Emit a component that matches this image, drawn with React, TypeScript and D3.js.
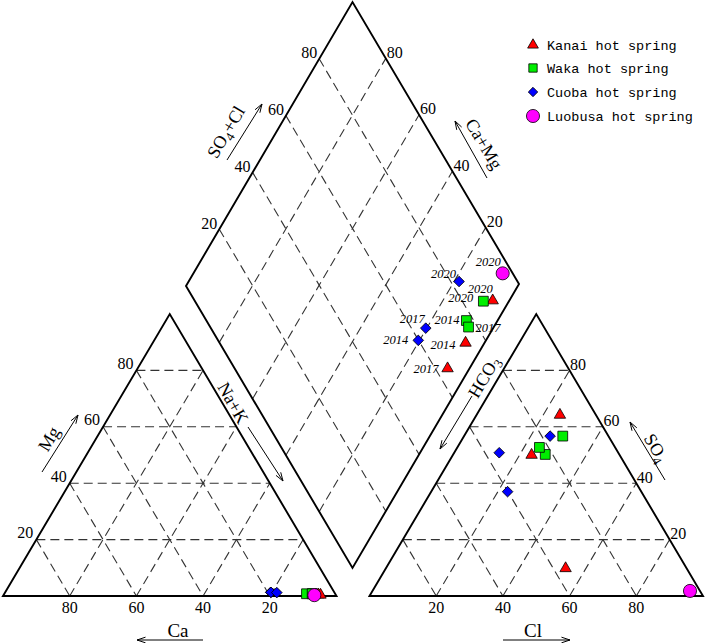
import React from "react";
import * as d3 from "d3";

// samples: spring index + year
const springs = ["Kanai hot spring", "Waka hot spring", "Cuoba hot spring", "Luobusa hot spring"];
const sampleSpring = [0, 0, 0, 1, 1, 1, 2, 2, 2, 3];
const sampleYear = ["2014", "2017", "2020", "2014", "2017", "2020", "2014", "2017", "2020", "2020"];

// cations (meq %)
const caPct = [5.2, 6.1, 4.6, 8.6, 6.8, 6.9, 19.1, 19.0, 17.3, 6.5];
const mgPct = [0.5, 0.5, 0.4, 0.8, 0.8, 0.8, 1.3, 1.3, 1.2, 0.3];
const naPct = [94.3, 93.4, 95.0, 90.6, 92.4, 92.3, 79.6, 79.7, 81.5, 93.2];
// anions (meq %)
const hco3Pct = [26.4, 36.3, 10.8, 22.2, 22.7, 13.7, 40.1, 35.7, 17.5, 3.0];
const so4Pct = [50.0, 9.8, 64.2, 50.2, 52.7, 56.7, 37.0, 50.8, 56.7, 1.8];
const clPct = [23.6, 53.9, 25.0, 27.6, 24.6, 29.6, 22.9, 13.5, 25.8, 95.2];

const gridTicks = [20, 40, 60, 80];

// layout
const colors = ["#ff0000", "#00ee00", "#0000ff", "#ff00ff"];
type P = { x: number; y: number };
const CA: P = { x: 3, y: 596 }, NA: P = { x: 336.5, y: 596 }, MG: P = { x: 169.75, y: 314 };
const HC: P = { x: 369.5, y: 596 }, CL: P = { x: 703, y: 596 }, SO: P = { x: 536.25, y: 314 };
const DL: P = { x: 186, y: 286 }, DB: P = { x: 352.5, y: 568 }, DT: P = { x: 352.5, y: 2 }, DR: P = { x: 519, y: 284 };

// year label offsets in the diamond [dx, dy, anchor]
const yearOffsets: [number, number, string][] = [
  [-10, 6, "end"], [-9, 5, "end"], [0, -8, "end"],
  [-7, 3, "end"], [7, 5, "start"], [-10, 1, "end"],
  [-10, 4, "end"], [-1, -5, "end"], [-3, -4, "end"],
  [-2, -7, "end"],
];

const frac = d3.scaleLinear().domain([0, 100]).range([0, 1]);

function tern(A: P, B: P, C: P, a: number, b: number, c: number): P {
  const s = a + b + c;
  return { x: (a * A.x + b * B.x + c * C.x) / s, y: (a * A.y + b * B.y + c * C.y) / s };
}
function diam(naK: number, so4cl: number): P {
  const n = frac(naK), s = frac(so4cl);
  return {
    x: DL.x + n * (DB.x - DL.x) + s * (DT.x - DL.x),
    y: DL.y + n * (DB.y - DL.y) + s * (DT.y - DL.y),
  };
}

const symbolFor = (k: number, big = true) => {
  if (k === 0) return d3.symbol(d3.symbolTriangle, big ? 56 : 50)();
  if (k === 1) return d3.symbol(d3.symbolSquare, big ? 96 : 70)();
  if (k === 2) return d3.symbol(d3.symbolSquare, big ? 56 : 44)();
  return d3.symbol(d3.symbolCircle, 135)();
};

const Marker = ({ k, p, big = true }: { k: number; p: P; big?: boolean }) => (
  <path
    d={symbolFor(k, big) || ""}
    transform={`translate(${p.x},${p.y})${k === 2 ? " rotate(45)" : ""}`}
    fill={colors[k]}
    stroke="#000"
    strokeWidth={0.8}
  />
);

const dash = { stroke: "#333", strokeWidth: 1.1, strokeDasharray: "9,5", fill: "none" };
const serif = "'Liberation Serif', 'Times New Roman', serif";

function Arrow({ x1, y1, x2, y2 }: { x1: number; y1: number; x2: number; y2: number }) {
  const a = Math.atan2(y2 - y1, x2 - x1);
  const len = 9, spread = 0.32;
  const h1 = { x: x2 - len * Math.cos(a - spread), y: y2 - len * Math.sin(a - spread) };
  const h2 = { x: x2 - len * Math.cos(a + spread), y: y2 - len * Math.sin(a + spread) };
  return (
    <g stroke="#000" strokeWidth={1} fill="none">
      <line x1={x1} y1={y1} x2={x2} y2={y2} />
      <polyline points={`${h1.x},${h1.y} ${x2},${y2} ${h2.x},${h2.y}`} />
    </g>
  );
}

const ang = (Math.atan2(MG.y - CA.y, MG.x - CA.x) * 180) / Math.PI; // about -59.4

function RotLabel({ x, y, rot, children }: { x: number; y: number; rot: number; children: React.ReactNode }) {
  return (
    <text
      x={x}
      y={y}
      transform={`rotate(${rot},${x},${y})`}
      textAnchor="middle"
      dominantBaseline="central"
      fontFamily={serif}
      fontSize={18}
    >
      {children}
    </text>
  );
}

export default function App() {
  const catGrid: [P, P][] = [];
  const anGrid: [P, P][] = [];
  gridTicks.forEach((v) => {
    const w = 100 - v;
    catGrid.push([tern(CA, MG, NA, w, v, 0), tern(CA, MG, NA, 0, v, w)]);
    catGrid.push([tern(CA, MG, NA, v, w, 0), tern(CA, MG, NA, v, 0, w)]);
    catGrid.push([tern(CA, MG, NA, w, 0, v), tern(CA, MG, NA, 0, w, v)]);
    anGrid.push([tern(HC, SO, CL, w, v, 0), tern(HC, SO, CL, 0, v, w)]);
    anGrid.push([tern(HC, SO, CL, v, w, 0), tern(HC, SO, CL, v, 0, w)]);
    anGrid.push([tern(HC, SO, CL, w, 0, v), tern(HC, SO, CL, 0, w, v)]);
  });
  const diaGrid: [P, P][] = [];
  gridTicks.forEach((v) => {
    diaGrid.push([diam(v, 0), diam(v, 100)]);
    diaGrid.push([diam(0, v), diam(100, v)]);
  });

  const poly = (pts: P[]) => pts.map((p) => `${p.x},${p.y}`).join(" ");

  return (
    <svg
      width={706}
      height={643}
      style={{ position: "absolute", left: 0, top: 0, background: "#fff" }}
    >
      {/* grids */}
      {[...catGrid, ...anGrid, ...diaGrid].map(([a, b], i) => (
        <line key={i} x1={a.x} y1={a.y} x2={b.x} y2={b.y} {...dash} />
      ))}
      {/* frames */}
      <g fill="none" stroke="#000" strokeWidth={1.9} strokeLinejoin="miter">
        <polygon points={poly([CA, MG, NA])} />
        <polygon points={poly([HC, SO, CL])} />
        <polygon points={poly([DL, DT, DR, DB])} />
      </g>

      {/* tick labels */}
      <g fontFamily={serif} fontSize={16}>
        {gridTicks.map((v) => {
          const pCa = tern(CA, MG, NA, v, 0, 100 - v);
          const pCl = tern(HC, SO, CL, 100 - v, 0, v);
          const pMg = tern(CA, MG, NA, 100 - v, v, 0);
          const pSo = tern(HC, SO, CL, 0, v, 100 - v);
          const pL = diam(0, v);
          const pR = diam(100 - v, 100);
          return (
            <g key={v}>
              <text x={pCa.x} y={613} textAnchor="middle">{v}</text>
              <text x={pCl.x} y={613} textAnchor="middle">{v}</text>
              <text x={pMg.x - 3} y={pMg.y - 1.5} textAnchor="end">{v}</text>
              <text x={pSo.x + 0.5} y={pSo.y - 0.5} textAnchor="start">{v}</text>
              <text x={pL.x - 2} y={pL.y - 0.5} textAnchor="end">{v}</text>
              <text x={pR.x + 1} y={pR.y - 0.5} textAnchor="start">{v}</text>
            </g>
          );
        })}
      </g>

      {/* axis titles */}
      <text x={178} y={637} textAnchor="middle" fontFamily={serif} fontSize={19}>Ca</text>
      <Arrow x1={203} y1={640} x2={137} y2={640} />
      <text x={533} y={637} textAnchor="middle" fontFamily={serif} fontSize={19}>Cl</text>
      <Arrow x1={503} y1={640} x2={570} y2={640} />

      <RotLabel x={49} y={439} rot={ang}>Mg</RotLabel>
      <Arrow x1={42} y1={472} x2={78} y2={415} />
      <RotLabel x={233} y={403} rot={ang + 120}>Na+K</RotLabel>
      <Arrow x1={248} y1={427} x2={283} y2={481} />
      <RotLabel x={484} y={377} rot={ang}>
        HCO<tspan fontSize={13} dy={5}>3</tspan>
      </RotLabel>
      <Arrow x1={472} y1={396} x2={440} y2={449} />
      <RotLabel x={656} y={448} rot={-ang}>
        SO<tspan fontSize={13} dy={5}>4</tspan>
      </RotLabel>
      <Arrow x1={665} y1={480} x2={630} y2={422} />
      <RotLabel x={226} y={132} rot={ang}>
        SO<tspan fontSize={13} dy={5}>4</tspan>
        <tspan dy={-5}>+Cl</tspan>
      </RotLabel>
      <Arrow x1={227} y1={160} x2={262} y2={104} />
      <RotLabel x={484} y={144} rot={-ang}>Ca+Mg</RotLabel>
      <Arrow x1={487} y1={178} x2={455} y2={121} />

      {/* samples */}
      {sampleSpring.map((k, i) => (
        <g key={i}>
          <Marker k={k} p={tern(CA, MG, NA, caPct[i], mgPct[i], naPct[i])} />
        </g>
      ))}
      {sampleSpring.map((k, i) => (
        <g key={i}>
          <Marker k={k} p={tern(HC, SO, CL, hco3Pct[i], so4Pct[i], clPct[i])} />
        </g>
      ))}
      {sampleSpring.map((k, i) => {
        const p = diam(naPct[i], so4Pct[i] + clPct[i]);
        const [dx, dy, anchor] = yearOffsets[i];
        return (
          <g key={i}>
            <Marker k={k} p={p} />
            <text
              x={p.x + dx}
              y={p.y + dy}
              textAnchor={anchor}
              fontFamily={serif}
              fontStyle="italic"
              fontSize={12.5}
            >
              {sampleYear[i]}
            </text>
          </g>
        );
      })}

      {/* legend */}
      {springs.map((s, k) => {
        const y = [45, 68, 92, 116][k];
        return (
          <g key={s}>
            <Marker k={k} p={{ x: 533, y }} big={false} />
            <text x={547} y={y + 5} fontFamily="'Liberation Mono', monospace" fontSize={13.5}>
              {s}
            </text>
          </g>
        );
      })}
    </svg>
  );
}
